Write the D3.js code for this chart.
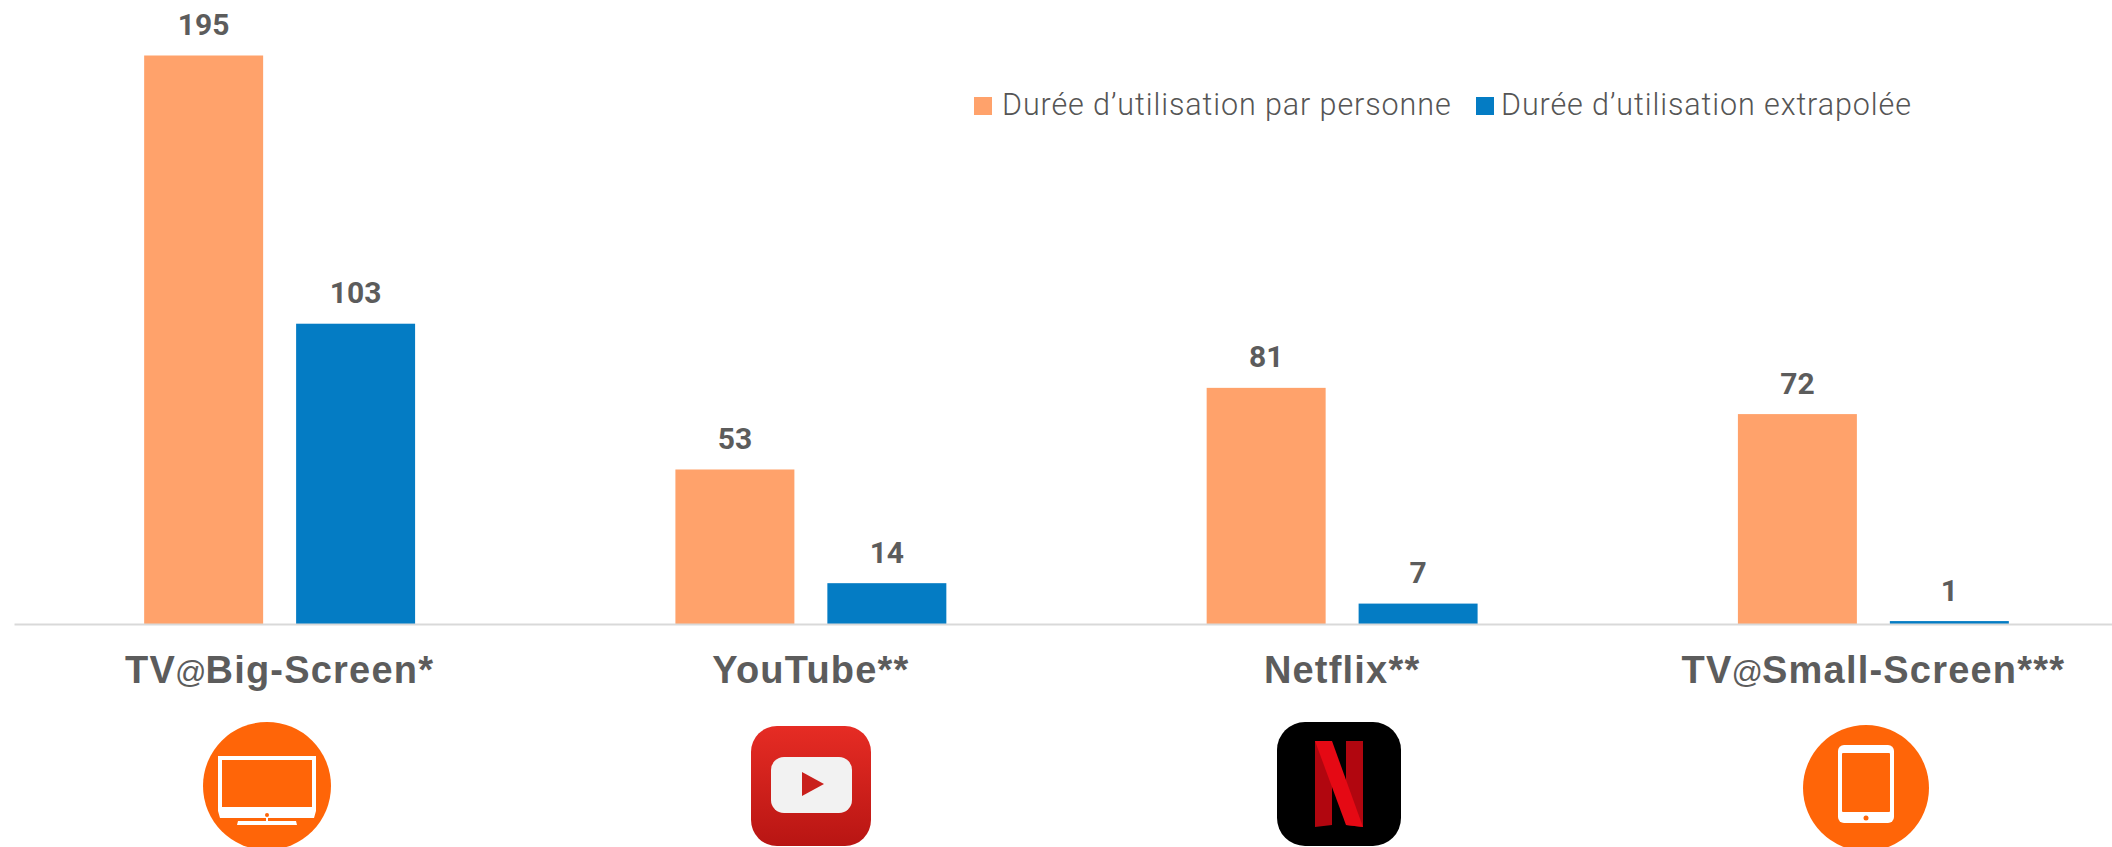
<!DOCTYPE html>
<html>
<head>
<meta charset="utf-8">
<script src="https://cdn.jsdelivr.net/npm/d3@7"></script>
<style>
	html, body { margin: 0; padding: 0; background: #fff; overflow: hidden; }
	text { fill: #5c5c5c; }
	.value { font: 700 30px Roboto, sans-serif; }
	.legend { font: 300 30.5px Roboto, sans-serif; letter-spacing: 0.9px; fill: #555; }
	.tick text { font: 700 38px "Liberation Sans", sans-serif; letter-spacing: 1.2px; }
	.tick text .at { font-weight: 400; font-size: 31px; letter-spacing: 0; }
</style>
</head>
<body>
<svg id="chart" width="2112" height="847"></svg>
<script>
const categories = ["TV@Big-Screen*", "YouTube**", "Netflix**", "TV@Small-Screen***"];
const seriesNames = ["Durée d’utilisation par personne", "Durée d’utilisation extrapolée"];
const perPerson = [195, 53, 81, 72];
const extrapolated = [103, 14, 7, 1];
const seriesValues = [perPerson, extrapolated];
const seriesColors = ["#ffa26b", "#047cc4"];

const svg = d3.select("#chart");
const baseline = 624;

// the plot runs a little past the right edge of the picture
const x0 = d3.scaleBand().domain(categories).range([14, 2139]).paddingInner(0.49).paddingOuter(0.245);
const x1 = d3.scaleBand().domain(d3.range(seriesNames.length)).range([0, x0.bandwidth()]).paddingInner(0.217);
const y = d3.scaleLinear().domain([0, 195]).range([baseline, 55.5]);

// Bars and their value labels
const groups = svg.selectAll("g.group")
	.data(categories)
	.enter()
	.append("g")
	.attr("class", "group")
	.attr("transform", d => `translate(${x0(d)},0)`);

groups.selectAll("rect")
	.data((d, i) => seriesValues.map((s, j) => ({series: j, value: s[i]})))
	.enter()
	.append("rect")
	.attr("x", d => x1(d.series))
	.attr("y", d => y(d.value))
	.attr("width", x1.bandwidth())
	.attr("height", d => baseline - y(d.value))
	.attr("fill", d => seriesColors[d.series]);

groups.selectAll("text")
	.data((d, i) => seriesValues.map((s, j) => ({series: j, value: s[i]})))
	.enter()
	.append("text")
	.attr("class", "value")
	.attr("x", d => x1(d.series) + x1.bandwidth() / 2)
	.attr("y", d => y(d.value) - 20.5)
	.attr("text-anchor", "middle")
	.text(d => d.value);

// Category axis
const axis = svg.append("g")
	.attr("transform", `translate(0,${baseline})`)
	.call(d3.axisBottom(x0).tickSize(0).tickPadding(30));

axis.select(".domain").attr("stroke", "#d9d9d9").attr("stroke-width", 2);
axis.selectAll(".tick text")
	.attr("fill", null)
	.attr("y", null).attr("dy", null)
	.attr("transform", "translate(0,59)")
	.each(function (d) {
		// the @ is set smaller and in the regular weight, and tucks in against its neighbours
		const label = d3.select(this).text(null);
		d.split(/(@)/).forEach((part, i) => {
			label.append("tspan")
				.attr("class", part === "@" ? "at" : null)
				.attr("dx", i > 0 ? -1 : null)
				.text(part);
		});
	});

// Legend
const legendX = [974, 1476];
const legendTextX = [1002, 1501];
const legend = svg.selectAll("g.legend-item")
	.data(seriesNames)
	.enter()
	.append("g")
	.attr("class", "legend-item");
legend.append("rect")
	.attr("x", (d, i) => legendX[i]).attr("y", 97)
	.attr("width", 18).attr("height", 18)
	.attr("fill", (d, i) => seriesColors[i]);
legend.append("text")
	.attr("class", "legend")
	.attr("x", (d, i) => legendTextX[i]).attr("y", 115)
	.text(d => d);

// Icons under the axis
const orange = "#ff6508";

function tvIcon(g) {
	g.append("circle").attr("cx", 267).attr("cy", 786).attr("r", 64).attr("fill", orange);
	g.append("rect").attr("x", 220).attr("y", 758).attr("width", 94).attr("height", 51)
		.attr("fill", "none").attr("stroke", "#fff").attr("stroke-width", 4);
	g.append("path").attr("d", "M218,811H316L314,818H220Z").attr("fill", "#fff");
	g.append("path").attr("d", "M266,818H268V821L296,821L297,825H237L238,821L266,821Z").attr("fill", "#fff");
	g.append("circle").attr("cx", 267).attr("cy", 815).attr("r", 2).attr("fill", orange);
}

function youtubeIcon(g) {
	const grad = svg.append("defs").append("linearGradient")
		.attr("id", "yt").attr("x1", 0).attr("y1", 0).attr("x2", 0).attr("y2", 1);
	grad.append("stop").attr("offset", "0%").attr("stop-color", "#e62c24");
	grad.append("stop").attr("offset", "100%").attr("stop-color", "#b81513");
	g.append("rect").attr("x", 751).attr("y", 726).attr("width", 120).attr("height", 120).attr("rx", 26)
		.attr("fill", "url(#yt)");
	g.append("rect").attr("x", 771).attr("y", 757).attr("width", 81).attr("height", 56).attr("rx", 13)
		.attr("fill", "#f2f2f2");
	g.append("path").attr("d", "M802,772L824,784L802,796Z").attr("fill", "#c9201c");
}

function netflixIcon(g) {
	g.append("rect").attr("x", 1277).attr("y", 722).attr("width", 124).attr("height", 124).attr("rx", 28)
		.attr("fill", "#000");
	g.append("path").attr("d", "M1315,741H1332V825L1315,827Z").attr("fill", "#b1060f");
	g.append("path").attr("d", "M1346,741H1363V827L1346,825Z").attr("fill", "#b1060f");
	g.append("path").attr("d", "M1315,741H1332L1363,827L1346,825Z").attr("fill", "#e50914");
}

function tabletIcon(g) {
	g.append("circle").attr("cx", 1866).attr("cy", 788).attr("r", 63).attr("fill", orange);
	g.append("rect").attr("x", 1838).attr("y", 745).attr("width", 56).attr("height", 78).attr("rx", 6).attr("fill", "#fff");
	g.append("rect").attr("x", 1842).attr("y", 753).attr("width", 48).attr("height", 59).attr("rx", 1).attr("fill", orange);
	g.append("circle").attr("cx", 1866).attr("cy", 818).attr("r", 2.5).attr("fill", orange);
}

const icons = svg.append("g").attr("class", "icons");
[tvIcon, youtubeIcon, netflixIcon, tabletIcon].forEach(draw => draw(icons.append("g")));
</script>
</body>
</html>
